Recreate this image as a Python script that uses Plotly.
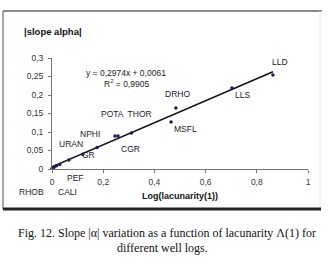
import plotly.graph_objects as go
import numpy as np

# Data
log_lacunarity = [0.0, 0.008, 0.018, 0.03, 0.066, 0.12, 0.176, 0.246, 0.258, 0.31, 0.465, 0.484, 0.703, 0.863]
slope_alpha = [0.002, 0.005, 0.009, 0.012, 0.024, 0.040, 0.058, 0.089, 0.089, 0.097, 0.127, 0.165, 0.219, 0.254]

well_logs = ["LLD", "LLS", "DRHO", "MSFL", "POTA  THOR", "CGR", "NPHI", "URAN", "GR", "PEF", "RHOB", "CALI"]
# label centres (x, y) in axis units
label_x = [0.89, 0.745, 0.492, 0.52, 0.29, 0.305, 0.148, 0.074, 0.144, 0.09, -0.082, 0.062]
label_y = [0.289, 0.200, 0.203, 0.108, 0.149, 0.054, 0.095, 0.068, 0.039, -0.025, -0.062, -0.062]

slope = 0.2974
intercept = 0.0061
eq_text = "y = 0,2974x + 0,0061"
r2_text = "R<sup>2</sup> = 0,9905"

x_ticks = [0, 0.2, 0.4, 0.6, 0.8, 1.0]
x_tick_text = ["0", "0,2", "0,4", "0,6", "0,8", "1"]
y_ticks = [0, 0.05, 0.1, 0.15, 0.2, 0.25, 0.3]
y_tick_text = ["0", "0,05", "0,1", "0,15", "0,2", "0,25", "0,3"]

X_RANGE = [0, 1]
Y_RANGE = [0, 0.3]

fit_x = np.array([0.0, max(log_lacunarity)])
fit_y = slope * fit_x + intercept

fig = go.Figure()
fig.add_trace(go.Scatter(x=fit_x, y=fit_y, mode="lines",
                         line=dict(color="#111111", width=1.5), hoverinfo="skip"))
fig.add_trace(go.Scatter(x=log_lacunarity, y=slope_alpha, mode="markers",
                         marker=dict(color="#1c1c5c", size=3.5), cliponaxis=False))

W, H = 334, 264
L, R, T, B = 52, 26, 58, 95
pw, ph = W - L - R, H - T - B


def dx(v):
    return (v - X_RANGE[0]) / (X_RANGE[1] - X_RANGE[0])


def dy(v):
    return (v - Y_RANGE[0]) / (Y_RANGE[1] - Y_RANGE[0])


def sx(p):
    return (p - L) / pw


def sy(p):
    return 1 - (p - T) / ph


sans = "Liberation Sans, Arial, sans-serif"
serif = "Liberation Serif, Times New Roman, serif"
ann = []
for name, lx, ly in zip(well_logs, label_x, label_y):
    ann.append(dict(x=dx(lx), y=dy(ly), text=name,
                    font=dict(family=sans, size=8.5, color="#222")))
ann.append(dict(x=dx(0.29), y=dy(0.259), text=eq_text,
                font=dict(family=sans, size=8.5, color="#222")))
ann.append(dict(x=dx(0.29), y=dy(0.230), text=r2_text,
                font=dict(family=sans, size=8.5, color="#222")))
ann.append(dict(x=dx(0.5), y=dy(-0.073), text="<b>Log(lacunarity(1))</b>",
                font=dict(family=sans, size=9, color="#111")))
ann.append(dict(x=sx(22), y=sy(32), text="<b>|slope alpha|</b>", xanchor="left",
                font=dict(family=sans, size=9.5, color="#111")))
ann.append(dict(x=sx(167), y=sy(233),
                text="Fig. 12. Slope |α| variation as a function of lacunarity Λ(1) for",
                font=dict(family=serif, size=12, color="#111")))
ann.append(dict(x=sx(162), y=sy(248), text="different well logs.",
                font=dict(family=serif, size=12, color="#111")))
for a in ann:
    a.setdefault("xanchor", "center")
    a["yanchor"] = "middle"
    a["xref"] = "paper"
    a["yref"] = "paper"
    a["showarrow"] = False

shapes = [
    dict(type="line", xref="paper", yref="paper", x0=sx(3), x1=sx(322), y0=sy(11), y1=sy(11),
         line=dict(color="#8a8a8a", width=2)),
    dict(type="line", xref="paper", yref="paper", x0=sx(3), x1=sx(3), y0=sy(11), y1=sy(209),
         line=dict(color="#8a8a8a", width=1.5)),
    dict(type="line", xref="paper", yref="paper", x0=sx(320), x1=sx(320), y0=sy(11), y1=sy(209),
         line=dict(color="#ececec", width=1)),
    dict(type="line", xref="paper", yref="paper", x0=sx(3), x1=sx(321), y0=sy(209), y1=sy(209),
         line=dict(color="#222222", width=3)),
]

fig.update_layout(
    width=W, height=H,
    margin=dict(l=L, r=R, t=T, b=B),
    paper_bgcolor="white", plot_bgcolor="white",
    showlegend=False,
    annotations=ann,
    shapes=shapes,
    xaxis=dict(range=X_RANGE, tickvals=x_ticks, ticktext=x_tick_text, showgrid=False,
               zeroline=False, showline=True, linecolor="#777", linewidth=1,
               ticks="outside", ticklen=3, tickcolor="#777", ticklabelstandoff=2,
               tickfont=dict(family=sans, size=8.5, color="#333")),
    yaxis=dict(range=Y_RANGE, tickvals=y_ticks, ticktext=y_tick_text, showgrid=False,
               zeroline=False, showline=True, linecolor="#777", linewidth=1,
               ticks="outside", ticklen=3, tickcolor="#777", ticklabelstandoff=3,
               tickfont=dict(family=sans, size=8.5, color="#333")),
)

fig.write_html("out.html",
               config={"displayModeBar": False},
               post_script="document.body.style.margin='0';document.body.style.overflow='hidden';")
